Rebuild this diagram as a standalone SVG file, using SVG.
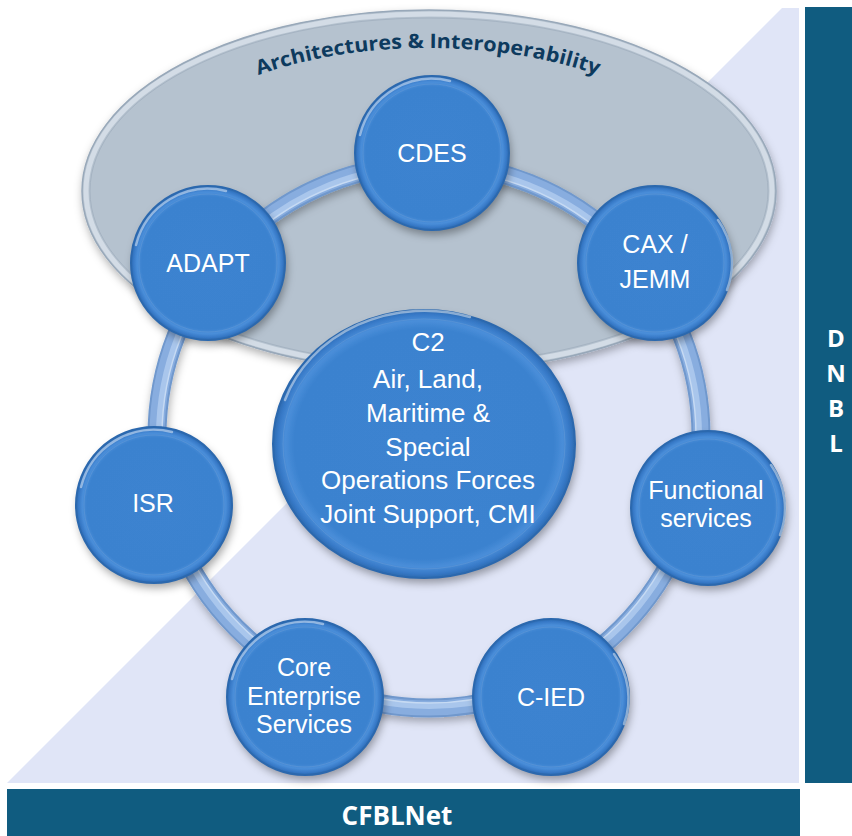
<svg xmlns="http://www.w3.org/2000/svg" width="852" height="836" viewBox="0 0 852 836">
<defs>
<style>
.lbl{font-family:"Liberation Sans","Open Sans",sans-serif;font-size:25px;fill:#ffffff;text-anchor:middle}
.big{font-size:26px}
.bar{fill:#105c80}
.barTxt{font-family:"Open Sans","Liberation Sans",sans-serif;font-weight:700;fill:#ffffff;text-anchor:middle}
.node{fill:url(#nodeGrad)}
.nodeRim{fill:none;stroke:#2b68ae;stroke-width:2}
.nodeInner{fill:none;stroke:#5d95d6;stroke-width:1;stroke-opacity:0.7}
.nodeHi{fill:none;stroke:#ffffff;stroke-width:2.5;stroke-opacity:0.45;stroke-linecap:round}
</style>
<radialGradient id="nodeGrad" cx="0.5" cy="0.5" r="0.5">
<stop offset="0" stop-color="#3c83d0"/>
<stop offset="0.86" stop-color="#3b82cf"/>
<stop offset="0.92" stop-color="#4a8ed9"/>
<stop offset="0.97" stop-color="#3678c6"/>
<stop offset="1" stop-color="#2c6aaf"/>
</radialGradient>
<filter id="shadow" x="-20%" y="-20%" width="140%" height="150%">
<feDropShadow dx="2" dy="5" stdDeviation="4" flood-color="#000000" flood-opacity="0.35"/>
</filter>
<filter id="shadowSoft" x="-10%" y="-10%" width="120%" height="130%">
<feDropShadow dx="1" dy="4" stdDeviation="4" flood-color="#000000" flood-opacity="0.3"/>
</filter>
<path id="arcPath" d="M 137 192 A 291 144 0 0 1 719 192"/>
</defs>

<!-- background -->
<rect x="0" y="0" width="852" height="836" fill="#ffffff"/>
<polygon points="7,783 782,8 799,8 799,783" fill="#e0e5f7"/>

<!-- side and bottom bars -->
<g id="dnbl">
<rect class="bar" x="805" y="7" width="47" height="776"/>
<text class="barTxt" x="836" y="347" font-size="24">D</text>
<text class="barTxt" x="836" y="382" font-size="24">N</text>
<text class="barTxt" x="836" y="417" font-size="24">B</text>
<text class="barTxt" x="836" y="452" font-size="24">L</text>
</g>
<g id="cfblnet">
<rect class="bar" x="7" y="789" width="793" height="47"/>
<text class="barTxt" x="397" y="825" font-size="26">CFBLNet</text>
</g>

<!-- Architectures & Interoperability ellipse -->
<g id="arch">
<ellipse cx="429" cy="191" rx="347" ry="181" fill="#b5c2cf" stroke="#98a8b9" stroke-width="1.5" filter="url(#shadowSoft)"/>
<ellipse cx="429" cy="191" rx="343" ry="177" fill="none" stroke="#d3dce6" stroke-width="5"/>
<ellipse cx="429" cy="191" rx="339" ry="173" fill="none" stroke="#a5b3c2" stroke-width="1"/>
<text font-family="'Open Sans','Liberation Sans',sans-serif" font-weight="700" font-size="20" fill="#0d3a5e">
<textPath href="#arcPath" startOffset="50%" text-anchor="middle" textLength="345" lengthAdjust="spacingAndGlyphs">Architectures &amp; Interoperability</textPath>
</text>
</g>

<!-- connectors: the ring -->
<g id="connectors">
<circle cx="429" cy="436" r="272" fill="none" stroke="#6f98cd" stroke-width="19" filter="url(#shadowSoft)"/>
<circle cx="429" cy="436" r="272" fill="none" stroke="#88addf" stroke-width="15"/>
<circle cx="429" cy="436" r="270" fill="none" stroke="#a9c6ec" stroke-width="6"/>
<circle cx="429" cy="436" r="267" fill="none" stroke="#c6daf3" stroke-width="1.5"/>
</g>

<!-- central C2 node -->
<g id="c2">
<ellipse class="node" cx="424" cy="444" rx="151" ry="134" filter="url(#shadow)"/>
<ellipse class="nodeRim" cx="424" cy="444" rx="151" ry="134"/>
<ellipse class="nodeInner" cx="424" cy="444" rx="141" ry="125"/>
<path class="nodeHi" d="M 285 400 A 147 130 0 0 1 470 317"/>
<text class="lbl big" x="428" y="351">C2</text>
<text class="lbl big" x="428" y="388">Air, Land,</text>
<text class="lbl big" x="428" y="422">Maritime &amp;</text>
<text class="lbl big" x="428" y="456">Special</text>
<text class="lbl big" x="428" y="489">Operations Forces</text>
<text class="lbl big" x="428" y="523">Joint Support, CMI</text>
</g>

<g id="cdes">
<circle class="node" cx="432" cy="153" r="77" filter="url(#shadow)"/>
<circle class="nodeRim" cx="432" cy="153" r="77"/>
<circle class="nodeInner" cx="432" cy="153" r="69"/>
<path class="nodeHi" d="M 360 135 A 74 74 0 0 1 450 81"/>
<text class="lbl" x="432" y="162">CDES</text>
</g>

<g id="adapt">
<circle class="node" cx="208" cy="263" r="77" filter="url(#shadow)"/>
<circle class="nodeRim" cx="208" cy="263" r="77"/>
<circle class="nodeInner" cx="208" cy="263" r="69"/>
<path class="nodeHi" d="M 136 245 A 74 74 0 0 1 226 191"/>
<text class="lbl" x="208" y="272">ADAPT</text>
</g>

<g id="cax">
<circle class="node" cx="655" cy="263" r="77" filter="url(#shadow)"/>
<circle class="nodeRim" cx="655" cy="263" r="77"/>
<circle class="nodeInner" cx="655" cy="263" r="69"/>
<path class="nodeHi" d="M 718 220 A 74 74 0 0 1 727 290"/>
<text class="lbl" x="655" y="253">CAX /</text>
<text class="lbl" x="655" y="288">JEMM</text>
</g>

<g id="isr">
<circle class="node" cx="154" cy="505" r="78" filter="url(#shadow)"/>
<circle class="nodeRim" cx="154" cy="505" r="78"/>
<circle class="nodeInner" cx="154" cy="505" r="70"/>
<path class="nodeHi" d="M 81 487 A 75 75 0 0 1 172 432"/>
<text class="lbl" x="153" y="512">ISR</text>
</g>

<g id="functional">
<circle class="node" cx="708" cy="508" r="77" filter="url(#shadow)"/>
<circle class="nodeRim" cx="708" cy="508" r="77"/>
<circle class="nodeInner" cx="708" cy="508" r="69"/>
<path class="nodeHi" d="M 771 465 A 74 74 0 0 1 780 535"/>
<text class="lbl" x="706" y="499">Functional</text>
<text class="lbl" x="706" y="527">services</text>
</g>

<g id="core">
<circle class="node" cx="305" cy="697" r="78" filter="url(#shadow)"/>
<circle class="nodeRim" cx="305" cy="697" r="78"/>
<circle class="nodeInner" cx="305" cy="697" r="70"/>
<path class="nodeHi" d="M 232 679 A 75 75 0 0 1 323 624"/>
<text class="lbl" x="304" y="676">Core</text>
<text class="lbl" x="304" y="705">Enterprise</text>
<text class="lbl" x="304" y="733">Services</text>
</g>

<g id="cied">
<circle class="node" cx="551" cy="697" r="78" filter="url(#shadow)"/>
<circle class="nodeRim" cx="551" cy="697" r="78"/>
<circle class="nodeInner" cx="551" cy="697" r="70"/>
<path class="nodeHi" d="M 614 654 A 75 75 0 0 1 624 724"/>
<text class="lbl" x="551" y="706">C-IED</text>
</g>
</svg>
